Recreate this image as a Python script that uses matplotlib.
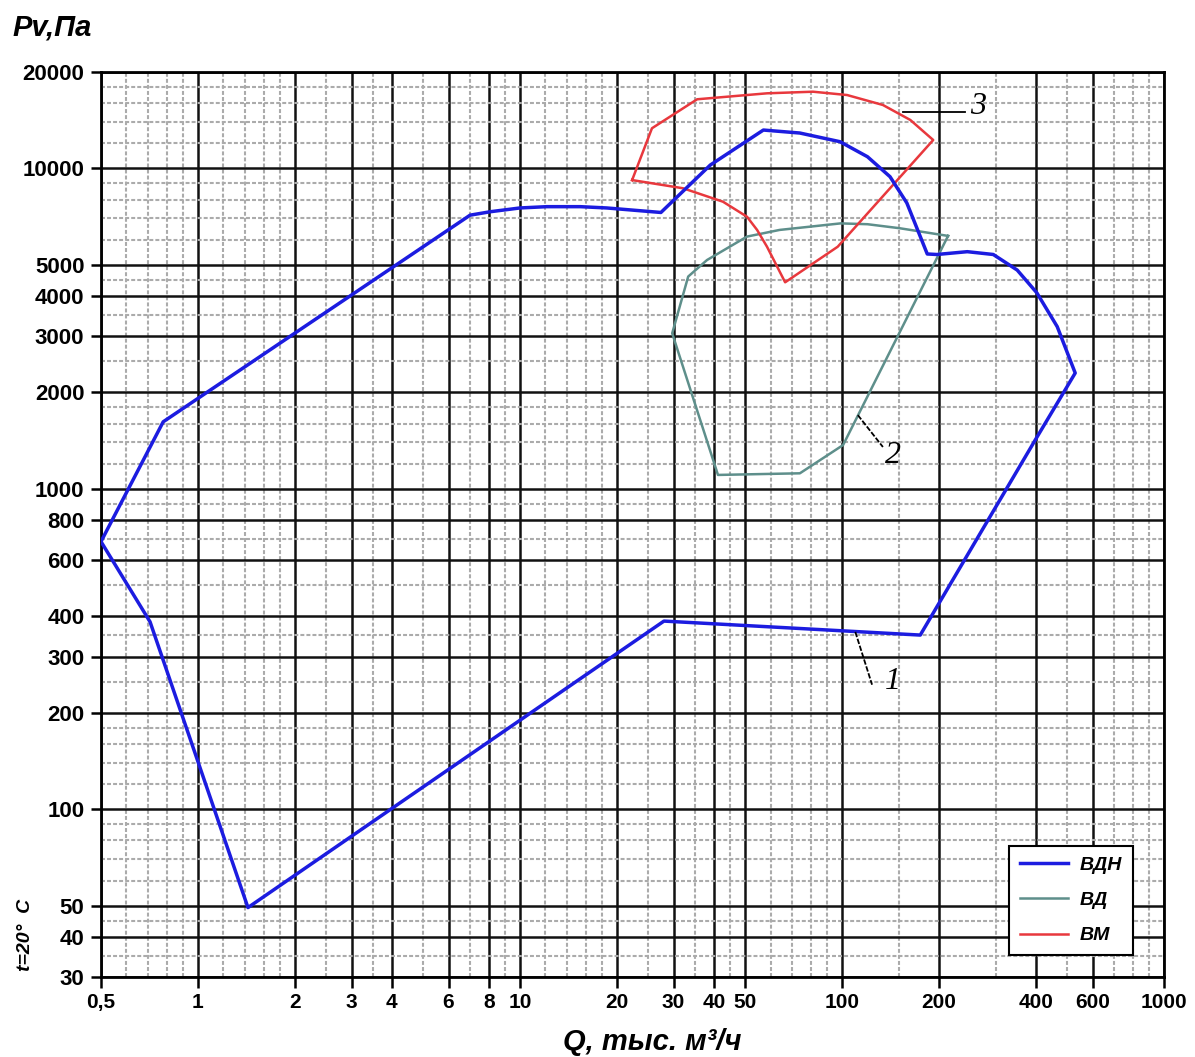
import matplotlib
matplotlib.use("Agg")
import matplotlib.pyplot as plt
from matplotlib.ticker import FixedLocator, FixedFormatter, NullFormatter

# ВДН (1) - blue working area
vdn_q = [0.5, 0.78, 7.0, 8.1, 10.0, 12.1, 15.4, 18.6, 27.4, 39, 57, 74, 98.6, 120, 141, 159,
         184, 197, 245, 295, 350, 403, 466, 530, 398, 175, 28, 1.43, 0.71, 0.5]
vdn_p = [685, 1620, 7150, 7330, 7530, 7600, 7600, 7530, 7290, 10250, 13180, 12900, 12120, 10880, 9425, 7805,
         5410, 5390, 5500, 5390, 4820, 4090, 3210, 2300, 1420, 350, 387, 49.4, 385, 685]

# ВД (2) - teal
vd_q = [213.5, 151, 120, 99, 64, 50.7, 38.1, 33.3, 29.7, 41.2, 74, 100.8, 213.5]
vd_p = [6160, 6510, 6700, 6740, 6430, 6130, 5180, 4600, 3060, 1106, 1119, 1371, 6160]

# ВМ (3) - red
vm_q = [22.3, 25.7, 35.5, 58.5, 81.3, 103.7, 134, 163, 192, 97, 66.6, 58.5, 54.5, 50.7, 42.7, 32.1, 22.3]
vm_p = [9200, 13350, 16440, 17160, 17360, 16950, 15780, 14170, 12270, 5700, 4414, 5700, 6430, 7070, 7876, 8674, 9200]

x_major = [0.5, 1, 2, 3, 4, 6, 8, 10, 20, 30, 40, 50, 100, 200, 400, 600, 1000]
x_labels = ['0,5', '1', '2', '3', '4', '6', '8', '10', '20', '30', '40', '50', '100', '200', '400', '600', '1000']
x_minor = [0.6, 0.7, 0.8, 0.9, 1.2, 1.4, 1.6, 1.8, 2.5, 3.5, 5, 7, 9, 12, 14, 16, 18, 25, 35, 45,
           60, 70, 80, 90, 150, 300, 500, 700, 800, 900]

y_major = [30, 40, 50, 100, 200, 300, 400, 600, 800, 1000, 2000, 3000, 4000, 5000, 10000, 20000]
y_labels = ['30', '40', '50', '100', '200', '300', '400', '600', '800', '1000', '2000', '3000', '4000',
            '5000', '10000', '20000']
y_minor = [35, 45, 60, 70, 80, 90, 120, 140, 160, 180, 250, 350, 500, 700, 900, 1200, 1400, 1600, 1800,
           2500, 3500, 4500, 6000, 7000, 8000, 9000, 12000, 14000, 16000, 18000]

# curve labels: (leader start, leader end, text position, text)
marks = [((110, 358), (124, 245), (144, 250), '1'),
         ((112, 1700), (134, 1352), (144, 1276), '2'),
         ((155, 15000), (241, 15000), (265, 15660), '3')]

plt.rcParams['font.family'] = ['Liberation Sans', 'DejaVu Sans']

fig = plt.figure(figsize=(11.95, 10.57), dpi=100)
ax = fig.add_axes([101 / 1195, 1 - 977 / 1057, 1063 / 1195, 905 / 1057])
ax.set_xscale('log')
ax.set_yscale('log')
ax.set_xlim(0.5, 1000)
ax.set_ylim(30, 20000)

ax.xaxis.set_major_locator(FixedLocator(x_major))
ax.xaxis.set_major_formatter(FixedFormatter(x_labels))
ax.xaxis.set_minor_locator(FixedLocator(x_minor))
ax.xaxis.set_minor_formatter(NullFormatter())
ax.yaxis.set_major_locator(FixedLocator(y_major))
ax.yaxis.set_major_formatter(FixedFormatter(y_labels))
ax.yaxis.set_minor_locator(FixedLocator(y_minor))
ax.yaxis.set_minor_formatter(NullFormatter())

ax.tick_params(which='minor', length=0)
ax.tick_params(axis='x', which='major', length=8, width=1.8, pad=3.5, labelsize=15)
ax.tick_params(axis='y', which='major', length=7, width=1.8, pad=5.0, labelsize=16)
for lab in ax.get_xticklabels() + ax.get_yticklabels():
    lab.set_fontweight('bold')

ax.set_axisbelow(True)
ax.grid(which='major', color='#111111', linewidth=1.8)
ax.grid(which='minor', color='#ababab', linewidth=1.5, linestyle=(0, (1.9, 1.0)))
for s in ax.spines.values():
    s.set_linewidth(2)
    s.set_color('black')

ax.plot(vdn_q, vdn_p, color='#1c1ce0', linewidth=2.5, label='ВДН', zorder=5)
ax.plot(vd_q, vd_p, color='#5e8f8b', linewidth=1.8, label='ВД', zorder=4)
ax.plot(vm_q, vm_p, color='#e8383d', linewidth=1.8, label='ВМ', zorder=4)

for (x0, y0), (x1, y1), (tx, ty), t in marks:
    ls = '-' if t == '3' else (0, (3, 1))
    ax.plot([x0, x1], [y0, y1], color='black', linewidth=1.3, linestyle=ls, zorder=6)
    ax.text(tx, ty, t, fontsize=23, family=['Liberation Serif'], style='italic',
            ha='center', va='center', zorder=6)

leg = ax.legend(loc='lower right', bbox_to_anchor=(1133 / 1195, 1 - 955 / 1057),
                bbox_transform=fig.transFigure, borderaxespad=0, fancybox=False,
                framealpha=1, edgecolor='black', handlelength=2.5, handletextpad=0.6,
                labelspacing=0.9, borderpad=0.55, prop={'weight': 'bold', 'style': 'italic', 'size': 14})
leg.get_frame().set_linewidth(1.5)
leg.set_zorder(10)

fig.text(12 / 1195, 1 - 28 / 1057, 'Pv,Па', fontsize=21, fontweight='bold', style='italic',
         ha='left', va='center')
fig.text(652 / 1195, 1 - 1042 / 1057, 'Q, тыс. м³/ч', fontsize=21, fontweight='bold', style='italic',
         ha='center', va='center')
fig.text(25 / 1195, 1 - 935 / 1057, 't=20°  C', fontsize=14, fontweight='bold', style='italic',
         rotation=90, ha='center', va='center')

fig.savefig('out.png', dpi=100, facecolor='white')
